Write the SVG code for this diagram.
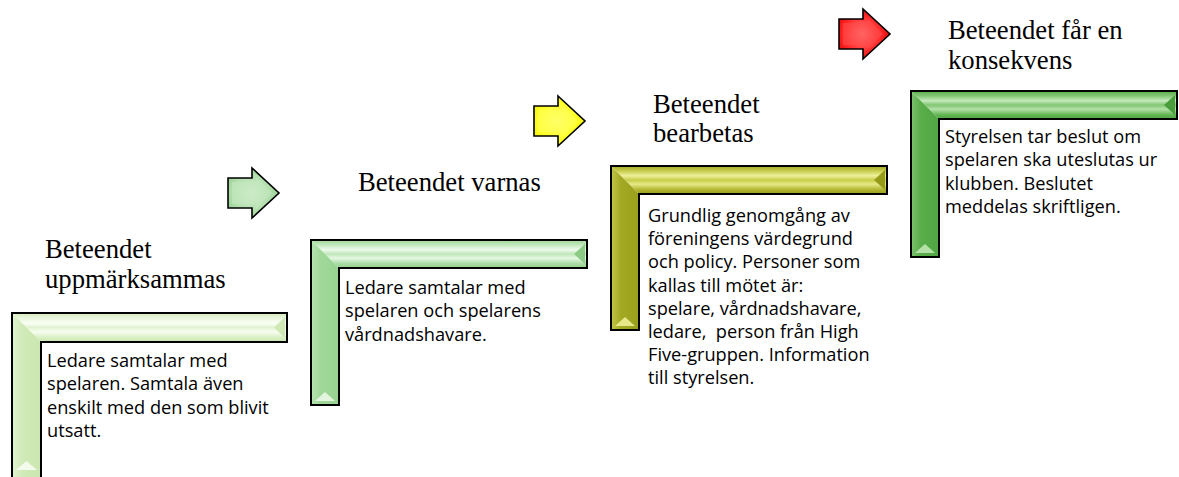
<svg xmlns="http://www.w3.org/2000/svg" width="1179" height="477" viewBox="0 0 1179 477">
<style>
.title{font-family:"Liberation Serif","Times New Roman",serif;font-size:26.67px;fill:#000}
.body{font-family:"Open Sans","Noto Sans",sans-serif;font-size:18.2px;fill:#000}
.outline{fill:none;stroke:#000;stroke-width:2;stroke-linejoin:miter}
.arrow{stroke:#000;stroke-width:1.6;stroke-linejoin:miter}
</style>
<defs>
  <!-- L1 pale green -->
  <linearGradient id="h1" x1="0" y1="0" x2="0" y2="1">
    <stop offset="0" stop-color="#d4ecbb"/><stop offset="0.18" stop-color="#e9f6dc"/>
    <stop offset="0.35" stop-color="#fbfff6"/><stop offset="0.5" stop-color="#e3f3d2"/>
    <stop offset="0.65" stop-color="#f7fdf0"/><stop offset="0.85" stop-color="#d9efc3"/>
    <stop offset="1" stop-color="#c9e5ae"/>
  </linearGradient>
  <linearGradient id="v1" x1="0" y1="0" x2="1" y2="0">
    <stop offset="0" stop-color="#e2f3d1"/><stop offset="0.35" stop-color="#d1ebb8"/>
    <stop offset="1" stop-color="#cbe6b0"/>
  </linearGradient>
  <!-- L2 green -->
  <linearGradient id="h2" x1="0" y1="0" x2="0" y2="1">
    <stop offset="0" stop-color="#9ed697"/><stop offset="0.18" stop-color="#c3e8bd"/>
    <stop offset="0.35" stop-color="#eefaec"/><stop offset="0.5" stop-color="#bfe6b9"/>
    <stop offset="0.65" stop-color="#e6f7e3"/><stop offset="0.85" stop-color="#a9dba2"/>
    <stop offset="1" stop-color="#93cf8c"/>
  </linearGradient>
  <linearGradient id="v2" x1="0" y1="0" x2="1" y2="0">
    <stop offset="0" stop-color="#b7e3b1"/><stop offset="0.35" stop-color="#a1d89a"/>
    <stop offset="1" stop-color="#98d391"/>
  </linearGradient>
  <!-- L3 olive -->
  <linearGradient id="h3" x1="0" y1="0" x2="0" y2="1">
    <stop offset="0" stop-color="#a3a823"/><stop offset="0.18" stop-color="#c9cd4f"/>
    <stop offset="0.35" stop-color="#eef19a"/><stop offset="0.5" stop-color="#c8cc4a"/>
    <stop offset="0.65" stop-color="#e6ea86"/><stop offset="0.85" stop-color="#b0b42e"/>
    <stop offset="1" stop-color="#9a9f1c"/>
  </linearGradient>
  <linearGradient id="v3" x1="0" y1="0" x2="1" y2="0">
    <stop offset="0" stop-color="#c0c548"/><stop offset="0.35" stop-color="#a4a924"/>
    <stop offset="1" stop-color="#9a9f1c"/>
  </linearGradient>
  <!-- L4 medium green -->
  <linearGradient id="h4" x1="0" y1="0" x2="0" y2="1">
    <stop offset="0" stop-color="#58ad48"/><stop offset="0.18" stop-color="#84c876"/>
    <stop offset="0.35" stop-color="#c6e9bc"/><stop offset="0.5" stop-color="#80c672"/>
    <stop offset="0.65" stop-color="#b4e1a8"/><stop offset="0.85" stop-color="#62b553"/>
    <stop offset="1" stop-color="#50a441"/>
  </linearGradient>
  <linearGradient id="v4" x1="0" y1="0" x2="1" y2="0">
    <stop offset="0" stop-color="#7cc26d"/><stop offset="0.35" stop-color="#5aae4a"/>
    <stop offset="1" stop-color="#51a542"/>
  </linearGradient>
  <!-- arrows -->
  <radialGradient id="ag" cx="0.45" cy="0.5" r="0.6">
    <stop offset="0" stop-color="#d6efd3"/><stop offset="0.6" stop-color="#b3dfae"/><stop offset="1" stop-color="#8fcb89"/>
  </radialGradient>
  <radialGradient id="ay" cx="0.45" cy="0.5" r="0.6">
    <stop offset="0" stop-color="#ffff80"/><stop offset="0.6" stop-color="#ffff2a"/><stop offset="1" stop-color="#eeee00"/>
  </radialGradient>
  <radialGradient id="ar" cx="0.45" cy="0.5" r="0.6">
    <stop offset="0" stop-color="#ff8a8a"/><stop offset="0.6" stop-color="#ff2a2a"/><stop offset="1" stop-color="#e00000"/>
  </radialGradient>
  <path id="arrowShape" d="M0,10 H24 V0 L51,25 L24,50 V40 H0 Z"/>
</defs>

<!-- Step 1 -->
<g id="step1">
  <text class="title" x="45" y="258">Beteendet</text>
  <text class="title" x="45" y="288">uppmärksammas</text>
  <polygon points="12,313 287,313 287,342 41,342" fill="url(#h1)"/>
  <polygon points="12,313 41,342 41,480 12,480" fill="url(#v1)"/>
  <polygon points="285,317 274,327.5 285,338" fill="#cfe8b5"/>
  <polygon points="16,470 26.5,461 37,470" fill="#f4fbec"/>
  <path class="outline" d="M12,313 H287 V342 H41 V480 H12 Z"/>
  <text class="body" x="47" y="367">
    <tspan x="47">Ledare samtalar med</tspan>
    <tspan x="47" dy="23.4">spelaren. Samtala även</tspan>
    <tspan x="47" dy="23.4">enskilt med den som blivit</tspan>
    <tspan x="47" dy="23.4">utsatt.</tspan>
  </text>
</g>

<!-- Step 2 -->
<g id="step2">
  <text class="title" x="358" y="191">Beteendet varnas</text>
  <polygon points="311,240 587,240 587,268 339,268" fill="url(#h2)"/>
  <polygon points="311,240 339,268 339,405 311,405" fill="url(#v2)"/>
  <polygon points="585,244 574,254 585,264" fill="#8ccb85"/>
  <polygon points="315,401 325,392 335,401" fill="#e3f5df"/>
  <path class="outline" d="M311,240 H587 V268 H339 V405 H311 Z"/>
  <text class="body" x="345" y="294">
    <tspan x="345">Ledare samtalar med</tspan>
    <tspan x="345" dy="23.4">spelaren och spelarens</tspan>
    <tspan x="345" dy="23.4">vårdnadshavare.</tspan>
  </text>
</g>

<!-- Step 3 -->
<g id="step3">
  <text class="title" x="653" y="113">Beteendet</text>
  <text class="title" x="653" y="142">bearbetas</text>
  <polygon points="611,166 887,166 887,194 639,194" fill="url(#h3)"/>
  <polygon points="611,166 639,194 639,330 611,330" fill="url(#v3)"/>
  <polygon points="885,170 874,180 885,190" fill="#959a18"/>
  <polygon points="615,326 625,317 635,326" fill="#e4e888"/>
  <path class="outline" d="M611,166 H887 V194 H639 V330 H611 Z"/>
  <text class="body" x="648" y="222">
    <tspan x="648">Grundlig genomgång av</tspan>
    <tspan x="648" dy="23.2">föreningens värdegrund</tspan>
    <tspan x="648" dy="23.2">och policy. Personer som</tspan>
    <tspan x="648" dy="23.2">kallas till mötet är:</tspan>
    <tspan x="648" dy="23.2">spelare, vårdnadshavare,</tspan>
    <tspan x="648" dy="23.2" xml:space="preserve">ledare,  person från High</tspan>
    <tspan x="648" dy="23.2">Five-gruppen. Information</tspan>
    <tspan x="648" dy="23.2">till styrelsen.</tspan>
  </text>
</g>

<!-- Step 4 -->
<g id="step4">
  <text class="title" x="948" y="39">Beteendet får en</text>
  <text class="title" x="948" y="69">konsekvens</text>
  <polygon points="911,91 1177,91 1177,119 939,119" fill="url(#h4)"/>
  <polygon points="911,91 939,119 939,257 911,257" fill="url(#v4)"/>
  <polygon points="1175,95 1164,105 1175,115" fill="#4a9c3c"/>
  <polygon points="915,253 925,244 935,253" fill="#b4e1a8"/>
  <path class="outline" d="M911,91 H1177 V119 H939 V257 H911 Z"/>
  <text class="body" x="945" y="143">
    <tspan x="945">Styrelsen tar beslut om</tspan>
    <tspan x="945" dy="23.3">spelaren ska uteslutas ur</tspan>
    <tspan x="945" dy="23.3">klubben. Beslutet</tspan>
    <tspan x="945" dy="23.3">meddelas skriftligen.</tspan>
  </text>
</g>

<!-- Arrows -->
<g id="connectors">
  <g id="arrow1" transform="translate(228,168)">
    <use href="#arrowShape" class="arrow" fill="url(#ag)"/>
    <path d="M4,14 H28 V9 L44,25 L28,41 V36 H4 Z" fill="#c4e7c0" opacity="0.6"/>
  </g>
  <g id="arrow2" transform="translate(534,96)">
    <use href="#arrowShape" class="arrow" fill="url(#ay)"/>
    <path d="M4,14 H28 V9 L44,25 L28,41 V36 H4 Z" fill="#ffff55" opacity="0.6"/>
  </g>
  <g id="arrow3" transform="translate(839,9)">
    <use href="#arrowShape" class="arrow" fill="url(#ar)"/>
    <path d="M4,14 H28 V9 L44,25 L28,41 V36 H4 Z" fill="#ff4a4a" opacity="0.6"/>
  </g>
</g>
</svg>
